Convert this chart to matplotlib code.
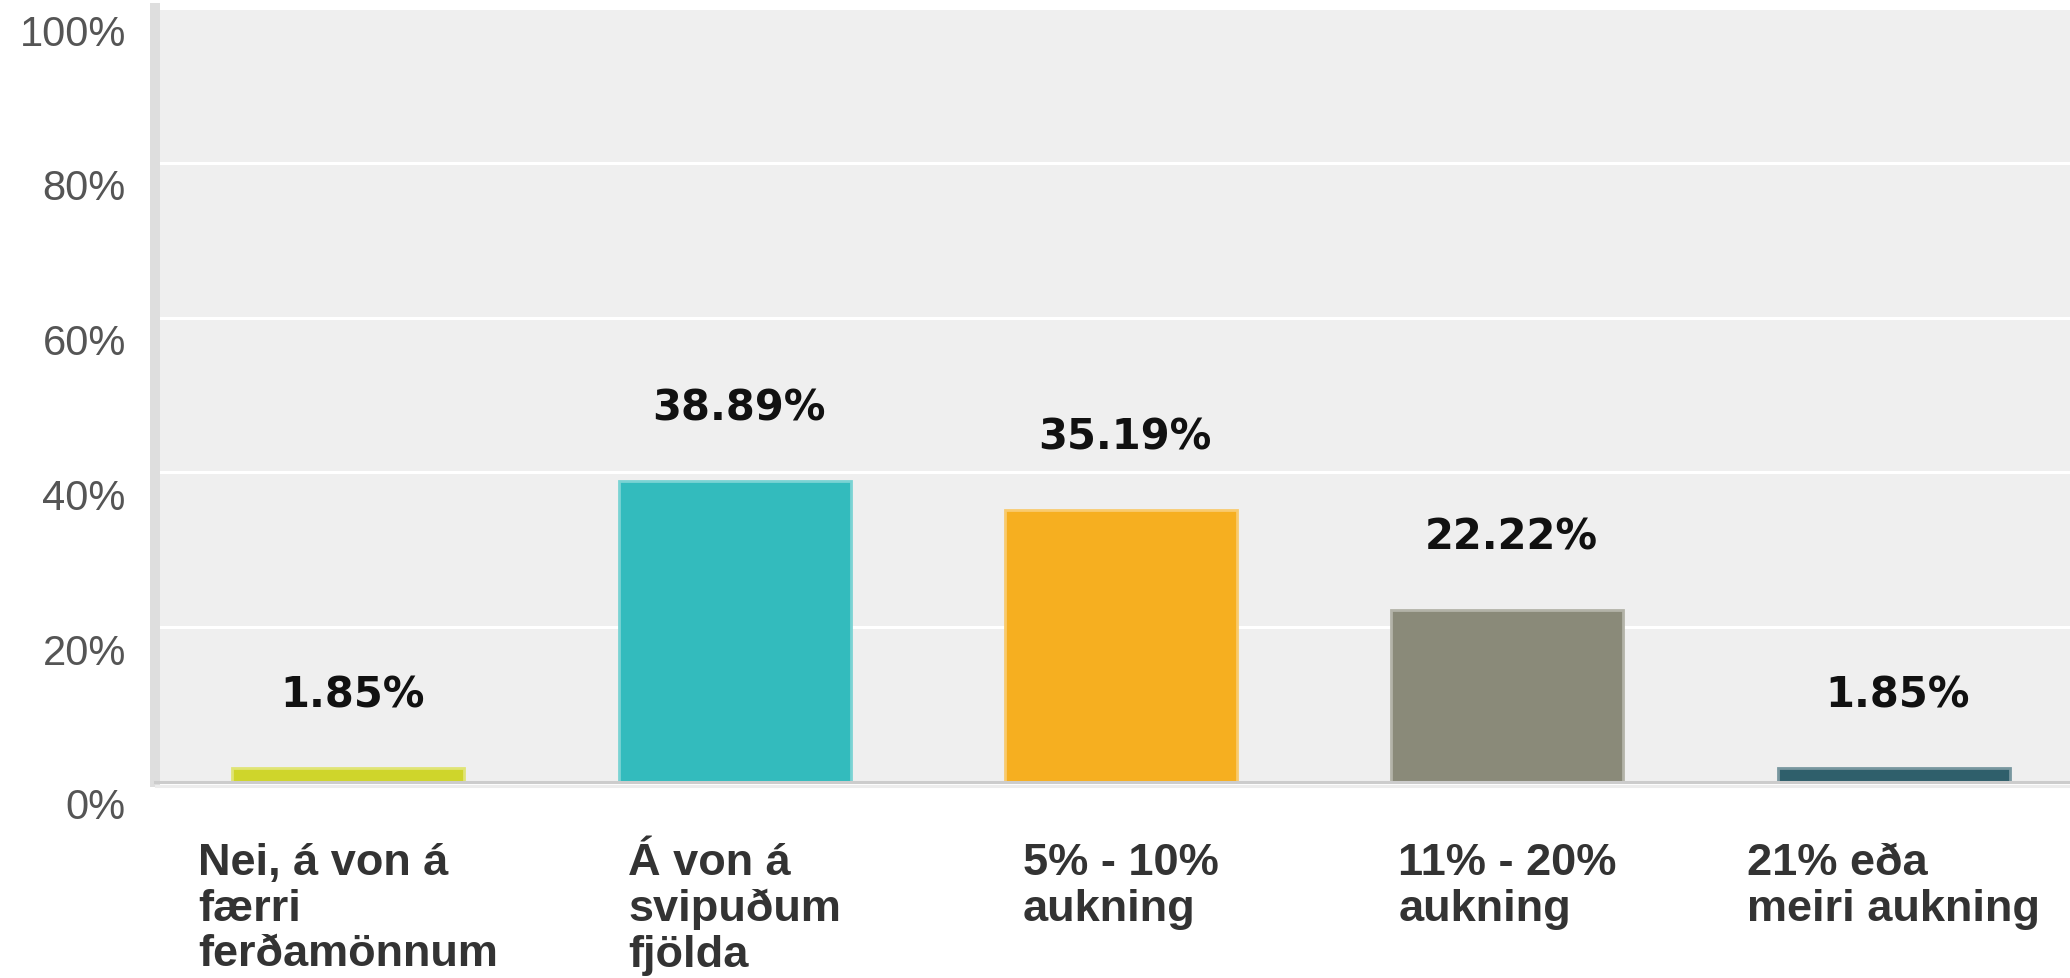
import matplotlib.pyplot as plt
from matplotlib.lines import Line2D
from matplotlib.transforms import ScaledTranslation
import matplotlib.colors as mcolors

# survey answers (icelandic) and their share in percent
categories = ["Nei, á von á\nfærri\nferðamönnum",
              "Á von á\nsvipuðum\nfjölda",
              "5% - 10%\naukning",
              "11% - 20%\naukning",
              "21% eða\nmeiri aukning"]
values = [1.85, 38.89, 35.19, 22.22, 1.85]
value_labels = ["1.85%", "38.89%", "35.19%", "22.22%", "1.85%"]
bar_colors = ["#cfd52b", "#33bbbd", "#f6af20", "#8a8a79", "#2f5f6b"]
yticks = [0, 20, 40, 60, 80, 100]
ytick_labels = ["0%", "20%", "40%", "60%", "80%", "100%"]

W, H = 2070, 979
fig = plt.figure(figsize=(W / 100, H / 100), dpi=100)
ax = fig.add_axes([155 / W, (H - 783) / H, (W - 155) / W, (783 - 9) / H])
ax.set_facecolor("#efefef")

def lighter(c, f=0.35):
    r, g, b = mcolors.to_rgb(c)
    return (r + (1 - r) * f, g + (1 - g) * f, b + (1 - b) * f)

x = list(range(len(values)))
ax.bar(x, values, width=0.6, color=bar_colors,
       edgecolor=[lighter(c) for c in bar_colors], linewidth=2.0, zorder=3)

for xi, v, t in zip(x, values, value_labels):
    ax.annotate(t, (xi, v), xytext=(3, 53), textcoords="offset points",
                ha="center", va="center", fontsize=30, fontweight="bold",
                family="DejaVu Sans", color="#111111", zorder=4)

ax.set_xlim(-0.5, 4.456)
ax.set_ylim(0, 100)

ax.set_yticks(yticks)
ax.set_yticklabels(ytick_labels, fontsize=30, family="Liberation Sans", color="#555555")
ax.tick_params(axis="y", length=0, pad=21)
for lab in ax.get_yticklabels():
    lab.set_transform(lab.get_transform() + ScaledTranslation(0, -0.21, fig.dpi_scale_trans))

ax.set_xticks(x)
ax.set_xticklabels(categories, fontsize=32.5, family="Liberation Sans", fontweight="bold",
                   color="#333333", linespacing=1.15, multialignment="left")
ax.tick_params(axis="x", length=0, pad=43)

ax.grid(axis="y", color="white", linewidth=2.2, zorder=1)
ax.set_axisbelow(True)

for s in ["top", "right"]:
    ax.spines[s].set_visible(False)
ax.spines["left"].set_color("#dedede")
ax.spines["left"].set_linewidth(7.2)
ax.spines["bottom"].set_color("#cccccc")
ax.spines["bottom"].set_linewidth(2.2)
ax.spines["bottom"].set_zorder(5)

# faint shadow line under the base
fig.add_artist(Line2D([156 / W, 1], [(H - 786.5) / H] * 2, color="#ececec", linewidth=2.2))

fig.savefig("out.png", dpi=100)
